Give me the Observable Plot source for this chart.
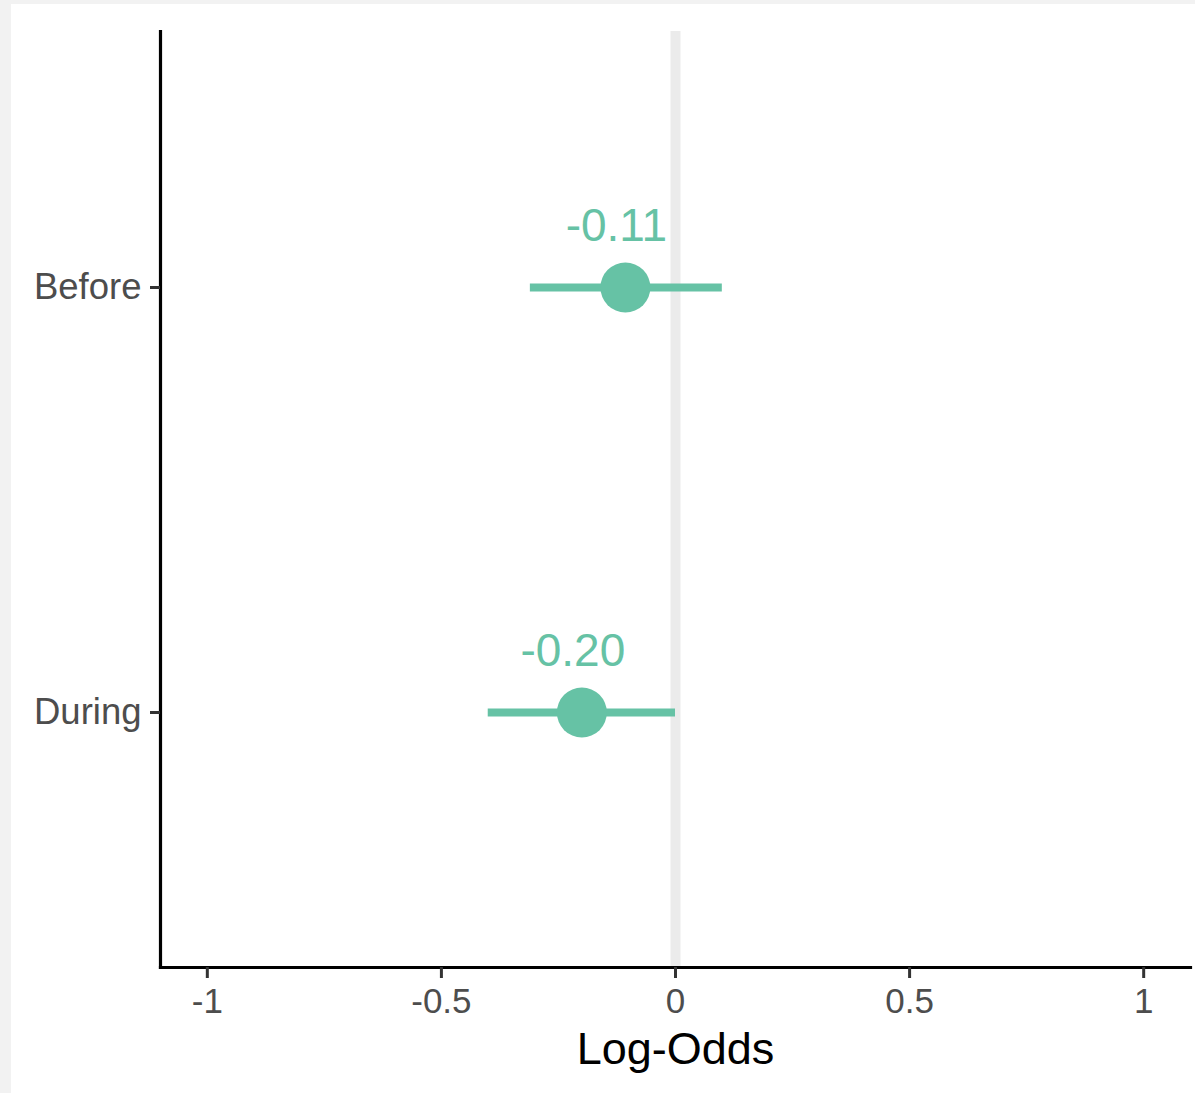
<!DOCTYPE html>
<html>
<head>
<meta charset="utf-8">
<script src="https://cdn.jsdelivr.net/npm/d3@7"></script>
<script src="https://cdn.jsdelivr.net/npm/@observablehq/plot@0.6"></script>
<style>
  html, body { margin: 0; padding: 0; background: #f2f2f2; }
  #panel { position: absolute; left: 11px; top: 4px; width: 1184px; height: 1089px; background: #ffffff; }
  svg { font-family: "Liberation Sans", Arial, Helvetica, sans-serif; }
</style>
</head>
<body>
<div id="panel"></div>
<script>
const periods = ["Before", "During"];
const estimates = [-0.107, -0.20];
const lowerCI = [-0.31, -0.40];
const upperCI = [0.10, 0.00];
const estLabels = ["-0.11", "-0.20"];
const xTicks = [-1, -0.5, 0, 0.5, 1];
const xTickLabels = ["-1", "-0.5", "0", "0.5", "1"];
const xTitle = "Log-Odds";

const color = "#66C2A5";
const data = periods.map((p, i) => ({period: p, est: estimates[i], lo: lowerCI[i], hi: upperCI[i], label: estLabels[i]}));

const chart = Plot.plot({
  width: 1184,
  height: 1089,
  marginLeft: 149,
  marginTop: 27,
  marginBottom: 126,
  marginRight: 5,
  style: {background: "transparent", fontFamily: "'Liberation Sans', Arial, Helvetica, sans-serif"},
  x: {domain: [-1.1, 1.1]},
  y: {domain: periods, type: "point", padding: 0.6},
  marks: [
    Plot.ruleX([0], {stroke: "#ebebeb", strokeWidth: 10}),
    Plot.frame({anchor: "left", stroke: "#000", strokeWidth: 3.2}),
    Plot.frame({anchor: "bottom", stroke: "#000", strokeWidth: 3.2}),
    Plot.axisX({
      ticks: xTicks,
      tickFormat: (d) => xTickLabels[xTicks.indexOf(d)],
      tickSize: 11,
      tickPadding: 10,
      fontSize: 35,
      stroke: "#333333",
      strokeWidth: 3,
      color: "#4d4d4d",
      label: null
    }),
    Plot.axisY({
      tickSize: 10,
      tickPadding: 9,
      fontSize: 36.5,
      stroke: "#333333",
      strokeWidth: 3,
      color: "#4d4d4d",
      label: null
    }),
    Plot.ruleY(data, {y: "period", x1: "lo", x2: "hi", stroke: color, strokeWidth: 8}),
    Plot.dot(data, {x: "est", y: "period", r: 25, fill: color, stroke: null}),
    Plot.text(data, {x: "est", y: "period", text: "label", dx: -9, dy: -47, lineAnchor: "bottom", fontSize: 46, fill: color}),
    Plot.text([xTitle], {frameAnchor: "bottom", dy: 96, lineAnchor: "bottom", fontSize: 45, fill: "#000"})
  ]
});
document.getElementById("panel").appendChild(chart);
</script>
</body>
</html>
